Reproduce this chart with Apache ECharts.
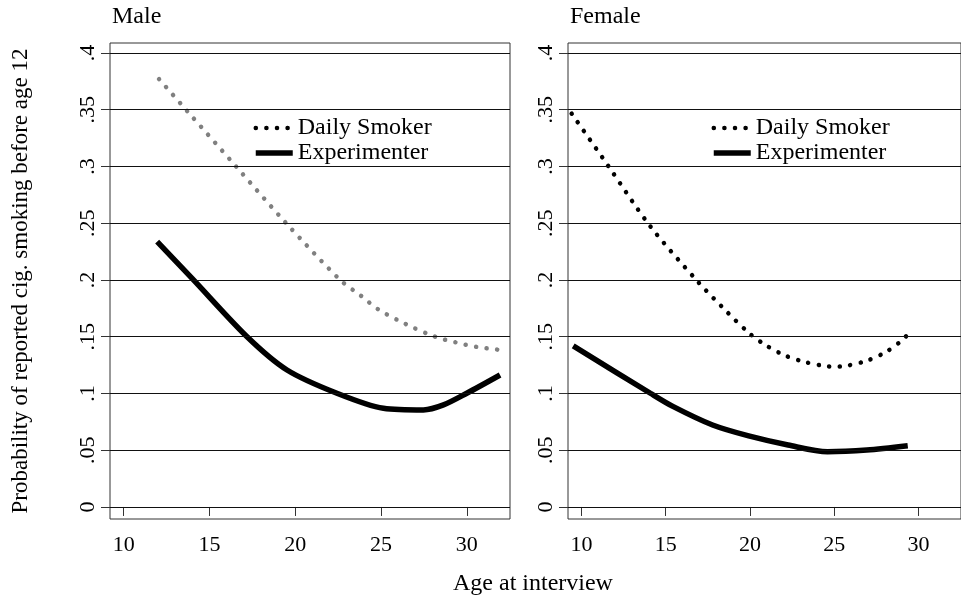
<!DOCTYPE html>
<html>
<head>
<meta charset="utf-8">
<script src="https://cdn.jsdelivr.net/npm/echarts@6/dist/echarts.min.js"></script>
<style>
  html, body { margin: 0; padding: 0; background: #fff; }
  #main { width: 961px; height: 597px; }
</style>
</head>
<body>
<div id="main"></div>
<script>
// values
var xTicks = [10, 15, 20, 25, 30];
var yTicks = [0, 0.05, 0.1, 0.15, 0.2, 0.25, 0.3, 0.35, 0.4];

var maleDailyAge = [12.06, 13.69, 16.55, 19.44, 22.62, 23.84, 24.85, 26.46, 28.15, 29.36, 30.58, 31.8];
var maleDaily = [0.377, 0.349, 0.300, 0.2505, 0.200, 0.186, 0.174, 0.161, 0.150, 0.145, 0.141, 0.1386];

var maleExpAge = [11.95, 14.0, 17.19, 19.52, 22.43, 25.14, 27.47, 28.64, 30.0, 31.94];
var maleExp = [0.2338, 0.2012, 0.150, 0.1207, 0.1002, 0.0870, 0.0855, 0.0899, 0.1002, 0.1163];

var femaleDailyAge = [9.42, 11.55, 14.05, 16.87, 18.62, 19.96, 20.95, 22.06, 23.23, 24.45, 25.04, 25.66, 26.87, 28.0, 29.0, 29.46];
var femaleDaily = [0.3465, 0.3013, 0.2479, 0.1991, 0.1721, 0.153, 0.1424, 0.1336, 0.1278, 0.1242, 0.1236, 0.1242, 0.1286, 0.136, 0.1466, 0.1536];

var femaleExpAge = [9.51, 14.09, 15.45, 17.78, 19.92, 22.26, 24.6, 26.93, 29.36];
var femaleExp = [0.1419, 0.1002, 0.0884, 0.0722, 0.0626, 0.0546, 0.0487, 0.0502, 0.054];

var font = 'Liberation Serif';

function pairs(xs, ys) {
    return xs.map(function (x, i) { return [x, ys[i]]; });
}

function tickFmt(v) {
    if (v === 0) return '0';
    return String(v).replace(/^0/, '');
}

var myChart = echarts.init(document.getElementById('main'));

function xAxisFor(idx) {
    return {
        type: 'value', gridIndex: idx, min: 9.2, max: 32.52,
        axisLine: { show: false },
        splitLine: { show: false },
        axisTick: { show: true, length: 9, customValues: xTicks, lineStyle: { color: '#333' } },
        axisLabel: { customValues: xTicks, margin: 15, fontFamily: font, fontSize: 22, color: '#000' }
    };
}

function yAxisFor(idx) {
    var ax = {
        type: 'value', gridIndex: idx, min: -0.0106, max: 0.4088,
        axisLine: { show: false },
        splitLine: { show: false },
        axisTick: { show: true, length: 9, customValues: yTicks, lineStyle: { color: '#333' } },
        axisLabel: {
            customValues: yTicks, rotate: 90, margin: 11,
            fontFamily: font, fontSize: 22, color: '#000',
            formatter: tickFmt
        }
    };
    if (idx === 0) {
        ax.name = 'Probability of reported cig. smoking before age 12';
        ax.nameLocation = 'middle';
        ax.nameRotate = 90;
        ax.nameGap = 78;
        ax.nameTextStyle = { fontFamily: font, fontSize: 23, color: '#000' };
    }
    return ax;
}

function gridLines(idx) {
    return {
        type: 'line', xAxisIndex: idx, yAxisIndex: idx, data: [], z: 1,
        silent: true,
        markLine: {
            silent: true, symbol: ['none', 'none'], animation: false,
            label: { show: false },
            lineStyle: { color: '#111', width: 1, type: 'solid' },
            data: yTicks.map(function (v) { return { yAxis: v }; })
        }
    };
}

var dotStyle = { width: 4.5, type: [0.1, 10.5], cap: 'round' };
var solidStyle = { width: 5.5, type: 'solid', cap: 'butt' };

function curve(name, idx, xs, ys, color, dotted) {
    var ls = Object.assign({ color: color }, dotted ? dotStyle : solidStyle);
    return {
        name: name, type: 'line', xAxisIndex: idx, yAxisIndex: idx,
        data: pairs(xs, ys), smooth: 0.3, symbol: 'none', z: 3,
        lineStyle: ls
    };
}

var legendData = [
    { name: 'Daily Smoker', itemStyle: { opacity: 0 }, lineStyle: Object.assign({ color: '#000' }, dotStyle) },
    { name: 'Experimenter', itemStyle: { opacity: 0 }, lineStyle: Object.assign({ color: '#000' }, solidStyle) }
];

function legendAt(left) {
    return {
        data: legendData, orient: 'vertical', left: left, top: 116,
        itemWidth: 37, itemHeight: 14, itemGap: 1, padding: 0,
        selectedMode: false,
        textStyle: { fontFamily: font, fontSize: 24, color: '#000', lineHeight: 22 }
    };
}

var titleStyle = { fontFamily: font, fontSize: 24, fontWeight: 'normal', color: '#000' };

var option = {
    animation: false,
    title: [
        { text: 'Male', left: 112, top: 5, padding: 0, textStyle: titleStyle },
        { text: 'Female', left: 570, top: 5, padding: 0, textStyle: titleStyle },
        { text: 'Age at interview', left: 453, top: 572, padding: 0, textStyle: titleStyle }
    ],
    legend: [legendAt(253), legendAt(711)],
    grid: [
        { left: 110, top: 43, width: 400, height: 476, show: true, borderColor: '#333', borderWidth: 1 },
        { left: 568, top: 43, width: 400, height: 476, show: true, borderColor: '#333', borderWidth: 1 }
    ],
    xAxis: [xAxisFor(0), xAxisFor(1)],
    yAxis: [yAxisFor(0), yAxisFor(1)],
    series: [
        gridLines(0),
        gridLines(1),
        curve('Daily Smoker', 0, maleDailyAge, maleDaily, '#808080', true),
        curve('Experimenter', 0, maleExpAge, maleExp, '#000', false),
        curve('Daily Smoker', 1, femaleDailyAge, femaleDaily, '#000', true),
        curve('Experimenter', 1, femaleExpAge, femaleExp, '#000', false)
    ]
};

myChart.setOption(option);
</script>
</body>
</html>
